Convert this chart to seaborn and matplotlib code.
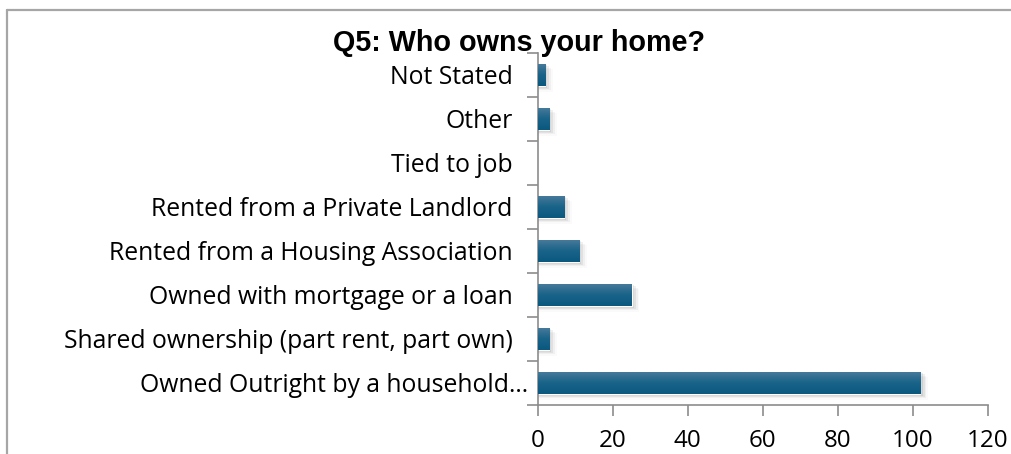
import numpy as np
import pandas as pd
import matplotlib
matplotlib.use("Agg")
import matplotlib.pyplot as plt
import matplotlib.transforms as mtransforms
from matplotlib.colors import LinearSegmentedColormap
from matplotlib.patches import Rectangle
import seaborn as sns

categories = [
    "Not Stated",
    "Other",
    "Tied to job",
    "Rented from a Private Landlord",
    "Rented from a Housing Association",
    "Owned with mortgage or a loan",
    "Shared ownership (part rent, part own)",
    "Owned Outright by a household\u2026",
]
counts = [2, 3, 0, 7, 11, 25, 3, 102]
x_ticks = [0, 20, 40, 60, 80, 100, 120]

sns.set_theme(style="white")
plt.rcParams["font.family"] = ["Open Sans", "DejaVu Sans"]

df = pd.DataFrame({"category": categories, "count": counts})

fig = plt.figure(figsize=(10.12, 4.54), dpi=100)
ax = fig.add_axes([537.7 / 1012, 1 - 405 / 454, (988 - 537.7) / 1012, (405 - 53) / 454])

sns.barplot(data=df, x="count", y="category", orient="h", color="#1a6088",
            width=0.52, ax=ax, saturation=1)

# vertical gradient fill and soft shadow on each bar
grad = LinearSegmentedColormap.from_list("bar", ["#4a7b9b", "#1a6389", "#0a587e"])
for p in list(ax.patches):
    x0, y0 = p.get_x(), p.get_y()
    w, h = p.get_width(), p.get_height()
    if w <= 0:
        continue
    for k, a in enumerate([0.08, 0.06, 0.04, 0.02]):
        sh = Rectangle((x0, y0 + 0.04 + k * 0.025), w + 0.6 + k * 0.5, h,
                       facecolor="black", alpha=a, edgecolor="none", zorder=1)
        ax.add_patch(sh)
    p.set_zorder(2)
    img = ax.imshow(np.linspace(0, 1, 64).reshape(-1, 1), cmap=grad, aspect="auto",
                    extent=(x0, x0 + w, y0 + h, y0), zorder=3, interpolation="bilinear")
    img.set_clip_path(p)

ax.set_xlim(0, 120)
ax.set_ylim(len(categories) - 0.5, -0.5)
ax.set_xticks(x_ticks)
ax.set_xticklabels([str(t) for t in x_ticks])
ax.set_xlabel("")
ax.set_ylabel("")

ax.set_yticks(range(len(categories)))
ax.set_yticks(np.arange(-0.5, len(categories), 1), minor=True)
ax.tick_params(axis="y", which="major", length=0, pad=18, labelsize=17.8, colors="#000000")
ax.tick_params(axis="y", which="minor", length=8, width=1.2, color="#8c8c8c", left=True)
ax.tick_params(axis="x", which="major", length=8, width=1.2, color="#8c8c8c", bottom=True,
               pad=9, labelsize=17.4, labelcolor="#000000")

# the truncated last label sits a little closer to the axis
last = ax.get_yticklabels()[-1]
last.set_transform(last.get_transform() +
                   mtransforms.ScaledTranslation(16 / 100, 0, fig.dpi_scale_trans))

for s in ["top", "right"]:
    ax.spines[s].set_visible(False)
for s in ["left", "bottom"]:
    ax.spines[s].set_color("#8c8c8c")
    ax.spines[s].set_linewidth(1.2)
ax.grid(False)

fig.text(519 / 1012, 1 - 43 / 454, "Q5: Who owns your home?", ha="center", va="center",
         fontsize=20.7, fontweight="bold", color="#000000",
         family=["Liberation Sans", "DejaVu Sans"])

# chart frame
fig.add_artist(plt.Line2D([7 / 1012, 7 / 1012], [0, 1 - 10 / 454], transform=fig.transFigure,
                          color="#a6a6a6", linewidth=1.6))
fig.add_artist(plt.Line2D([7 / 1012, 1], [1 - 10 / 454, 1 - 10 / 454], transform=fig.transFigure,
                          color="#a6a6a6", linewidth=1.6))

fig.savefig("out.png", dpi=100)
